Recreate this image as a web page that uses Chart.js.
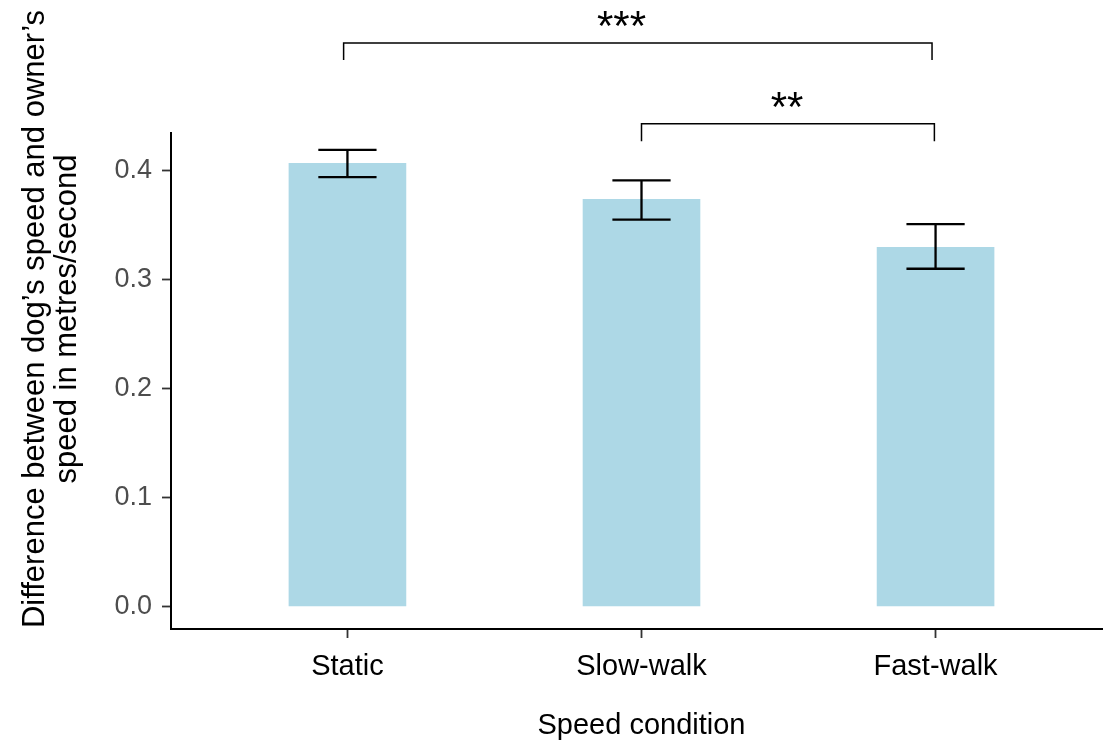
<!DOCTYPE html>
<html lang="en">
<head>
  <meta charset="UTF-8">
  <title>Dog vs owner speed difference</title>
  <script src="https://cdn.jsdelivr.net/npm/chart.js"></script>
  <style>
    body {
      margin: 0;
      background: #ffffff;
      overflow: hidden;
    }
    .chart-container {
      position: relative;
      width: 1112px;
      height: 740px;
    }
  </style>
</head>
<body>

  <div class="chart-container">
    <canvas id="speedChart"></canvas>
  </div>

  <script>
    const categories = ['Static', 'Slow-walk', 'Fast-walk'];
    const meanDiff = [0.407, 0.374, 0.330];
    const errLow = [0.394, 0.355, 0.310];
    const errHigh = [0.419, 0.391, 0.351];
    const yTicks = [0, 0.1, 0.2, 0.3, 0.4];
    const yTitle = ['Difference between dog\u2019s speed and owner\u2019s', 'speed in metres/second'];

    // significance brackets (x in category units, y in data units)
    const bracketStart = [-0.013, 1.0];
    const bracketEnd = [1.988, 1.996];
    const bracketY = [0.517, 0.443];
    const bracketTip = [0.5015, 0.427];
    const bracketLabelX = [0.932, 1.495];
    const bracketLabels = ['***', '**'];

    const FONT = "'Liberation Sans', Arial, sans-serif";

    const annotations = {
      id: 'annotations',
      afterDatasetsDraw(chart) {
        const ctx = chart.ctx;
        const xs = chart.scales.x;
        const ys = chart.scales.y;
        ctx.save();
        ctx.strokeStyle = '#000000';

        // error bars
        ctx.lineWidth = 2.3;
        categories.forEach((c, i) => {
          const x = xs.getPixelForValue(i);
          const x0 = xs.getPixelForValue(i - 0.099);
          const x1 = xs.getPixelForValue(i + 0.099);
          const yl = ys.getPixelForValue(errLow[i]);
          const yh = ys.getPixelForValue(errHigh[i]);
          ctx.beginPath();
          ctx.moveTo(x, yl); ctx.lineTo(x, yh);
          ctx.moveTo(x0, yl); ctx.lineTo(x1, yl);
          ctx.moveTo(x0, yh); ctx.lineTo(x1, yh);
          ctx.stroke();
        });

        // brackets
        ctx.lineWidth = 1.5;
        ctx.fillStyle = '#000000';
        ctx.font = '42px ' + FONT;
        ctx.textAlign = 'center';
        ctx.textBaseline = 'alphabetic';
        bracketLabels.forEach((lab, i) => {
          const xa = xs.getPixelForValue(bracketStart[i]);
          const xb = xs.getPixelForValue(bracketEnd[i]);
          const yb = ys.getPixelForValue(bracketY[i]);
          const yt = ys.getPixelForValue(bracketTip[i]);
          ctx.beginPath();
          ctx.moveTo(xa, yt); ctx.lineTo(xa, yb); ctx.lineTo(xb, yb); ctx.lineTo(xb, yt);
          ctx.stroke();
          ctx.fillText(lab, xs.getPixelForValue(bracketLabelX[i]), yb - 3);
        });

        // y-axis title, centred like the original figure
        ctx.font = '31px ' + FONT;
        ctx.textBaseline = 'middle';
        ctx.translate(35, 319);
        ctx.rotate(-Math.PI / 2);
        yTitle.forEach((line, i) => ctx.fillText(line, 0, i * 32));
        ctx.restore();
      }
    };

    new Chart(document.getElementById('speedChart'), {
      type: 'bar',
      data: {
        datasets: [{
          data: meanDiff.map((v, i) => ({ x: i, y: v })),
          backgroundColor: '#ADD8E6',
          barPercentage: 0.4,
          categoryPercentage: 1.0
        }]
      },
      options: {
        responsive: true,
        maintainAspectRatio: false,
        animation: false,
        layout: {
          padding: { top: 133, right: 0, bottom: 0, left: 0 }
        },
        plugins: {
          legend: { display: false },
          tooltip: { enabled: false }
        },
        scales: {
          x: {
            type: 'linear',
            offset: false,
            min: -0.6,
            max: 2.6,
            afterBuildTicks: (scale) => {
              scale.ticks = categories.map((c, i) => ({ value: i }));
            },
            afterFit: (scale) => { scale.height = 740 - 629; },
            grid: {
              offset: false,
              drawOnChartArea: false,
              drawTicks: true,
              tickLength: 9,
              tickWidth: 1.8,
              tickColor: '#333333'
            },
            border: { display: true, color: '#000000', width: 2 },
            ticks: {
              padding: 12,
              color: '#000000',
              font: { family: FONT, size: 29 },
              callback: (v) => categories[v] || ''
            },
            title: {
              display: true,
              text: 'Speed condition',
              color: '#000000',
              font: { family: FONT, size: 29, lineHeight: 1 },
              padding: { top: 0, bottom: 0 }
            }
          },
          y: {
            min: -0.0204,
            max: 0.4345,
            afterBuildTicks: (scale) => {
              scale.ticks = yTicks.map(v => ({ value: v }));
            },
            afterFit: (scale) => { scale.width = 171; },
            grid: {
              drawOnChartArea: false,
              drawTicks: true,
              tickLength: 9,
              tickWidth: 1.8,
              tickColor: '#333333'
            },
            border: { display: true, color: '#000000', width: 2 },
            ticks: {
              padding: 10,
              color: '#4D4D4D',
              font: { family: FONT, size: 27 },
              callback: (v) => Number(v).toFixed(1)
            }
          }
        }
      },
      plugins: [annotations]
    });
  </script>

</body>
</html>
